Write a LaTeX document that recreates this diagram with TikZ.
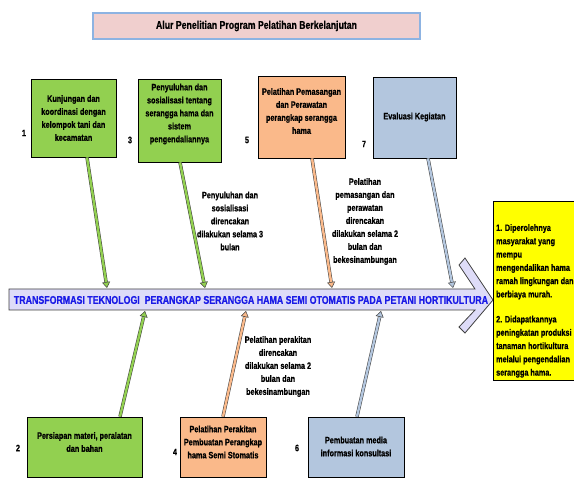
\documentclass[tikz,border=0pt]{standalone}
\usepackage{fontspec}
\setmainfont{Liberation Sans}[FakeStretch=0.78, BoldFont={Liberation Sans Bold}, BoldFeatures={FakeBold=0.6}]
\usetikzlibrary{arrows.meta}
\definecolor{cgreen}{HTML}{92D050}
\definecolor{corange}{HTML}{FAB98A}
\definecolor{cblue}{HTML}{B3C6DE}
\definecolor{cpink}{HTML}{F0CFCE}
\definecolor{cpinkborder}{HTML}{8DB3E2}
\definecolor{clav}{HTML}{DEDCF8}
\definecolor{ctextblue}{HTML}{1A1AE6}
\definecolor{cyel}{HTML}{FFFF00}
\definecolor{cedge}{HTML}{404040}
\begin{document}
\begin{tikzpicture}[x=1pt,y=-1pt,
  font=\bfseries\fontsize{9.3}{13}\selectfont,
  box/.style={draw=black, line width=0.8pt, inner sep=0pt},
  txt/.style={align=center, inner sep=0pt},
  num/.style={inner sep=0pt},
  conn/.style={draw=cedge, line width=0.5pt, double=#1, double distance=2.4pt,
    -{Triangle[length=6pt, width=8pt, fill=#1]}}]
\fill[white] (0,0) rectangle (574,478);
\path[use as bounding box] (0,0) rectangle (574,478);

% title
\node[draw=cpinkborder, line width=1.2pt, fill=cpink, minimum width=327pt, minimum height=26pt, inner sep=0pt,
  font=\bfseries\fontsize{11.2}{13}\selectfont] (title) at (256.5,26) {Alur Penelitian Program Pelatihan Berkelanjutan};

% top boxes
\node[box, fill=cgreen, minimum width=85pt, minimum height=78pt] (b1) at (73.5,118) {};
\node[box, fill=cgreen, minimum width=83pt, minimum height=83pt] (b3) at (179.5,120.5) {};
\node[box, fill=corange, minimum width=87pt, minimum height=82pt] (b5) at (301.5,117) {};
\node[box, fill=cblue, minimum width=83pt, minimum height=81pt] (b7) at (414.5,117.5) {};

\node[txt] (b1t) at (73.5,118) {Kunjungan dan\\koordinasi dengan\\kelompok tani dan\\kecamatan};
\node[txt] (b3t) at (179.5,114) {Penyuluhan dan\\sosialisasi tentang\\serangga hama dan\\sistem\\pengendaliannya};
\node[txt] (b5t) at (301.5,111) {Pelatihan Pemasangan\\dan Perawatan\\perangkap serangga\\hama};
\node[txt] (b7t) at (414.5,117) {Evaluasi Kegiatan};

% bottom boxes
\node[box, fill=cgreen, minimum width=115pt, minimum height=60pt] (b2) at (84.5,447) {};
\node[box, fill=corange, minimum width=86pt, minimum height=60pt] (b4) at (223,447) {};
\node[box, fill=cblue, minimum width=96pt, minimum height=60pt] (b6) at (356,447) {};

\node[txt] (b2t) at (84.5,442) {Persiapan materi, peralatan\\dan bahan};
\node[txt] (b4t) at (223,442) {Pelatihan Perakitan\\Pembuatan Perangkap\\hama Semi Stomatis};
\node[txt] (b6t) at (356,446.5) {Pembuatan media\\informasi konsultasi};

% numbers
\node[num] (n1) at (24,133) {1};
\node[num] (n3) at (130,140) {3};
\node[num] (n5) at (247,140) {5};
\node[num] (n7) at (364,144) {7};
\node[num] (n2) at (18,448) {2};
\node[num] (n4) at (175,452) {4};
\node[num] (n6) at (297,448) {6};

% main arrow
\draw[draw=cedge, fill=clav, line width=0.8pt, line join=miter]
  (9,289) -- (475,289) -- (459,265) -- (465,258) -- (493,300) -- (465,333) -- (459,327) -- (475,310) -- (9,310) -- cycle;
\node[inner sep=0pt, text=ctextblue, font=\bfseries\fontsize{11.3}{13}\selectfont] (main) at (251,300)
  {TRANSFORMASI TEKNOLOGI\ \ PERANGKAP SERANGGA HAMA SEMI OTOMATIS PADA PETANI HORTIKULTURA};

% yellow box
\node[draw=black, line width=0.8pt, fill=cyel, minimum width=83pt, minimum height=179pt, inner sep=0pt] (res) at (534.5,290.5) {};
\node[align=left, inner sep=0pt, anchor=north west, font=\bfseries\fontsize{9.3}{13.3}\selectfont] (rest) at (496,224)
  {1. Diperolehnya\\masyarakat yang\\mempu\\mengendalikan hama\\ramah lingkungan dan\\berbiaya murah.\\[11.7pt]2. Didapatkannya\\peningkatan produksi\\tanaman hortikultura\\melalui pengendalian\\serangga hama.};

% side notes
\node[txt] (s1) at (230,221) {Penyuluhan dan\\sosialisasi\\direncakan\\dilakukan selama 3\\bulan};
\node[txt] (s2) at (365,221.5) {Pelatihan\\pemasangan dan\\perawatan\\direncakan\\dilakukan selama 2\\bulan dan\\bekesinambungan};
\node[txt] (s3) at (278,366.5) {Pelatihan perakitan\\direncakan\\dilakukan selama 2\\bulan dan\\bekesinambungan};

% connector ends
\coordinate (t1) at (107,288);
\coordinate (t3) at (205,288);
\coordinate (t5) at (332,288);
\coordinate (t7) at (453,288);
\coordinate (t2) at (145,311);
\coordinate (t4) at (246,311);
\coordinate (t6) at (381,311);

\draw[conn=cgreen] ([xshift=13.5pt]b1.south) -- (t1);
\draw[conn=cgreen] ([xshift=0.5pt]b3.south) -- (t3);
\draw[conn=corange] ([xshift=10.5pt]b5.south) -- (t5);
\draw[conn=cblue] ([xshift=13.5pt]b7.south) -- (t7);
\draw[conn=cgreen] ([xshift=35.5pt]b2.north) -- (t2);
\draw[conn=corange] (b4.north) -- (t4);
\draw[conn=cblue] ([xshift=1pt]b6.north) -- (t6);
\end{tikzpicture}
\end{document}
